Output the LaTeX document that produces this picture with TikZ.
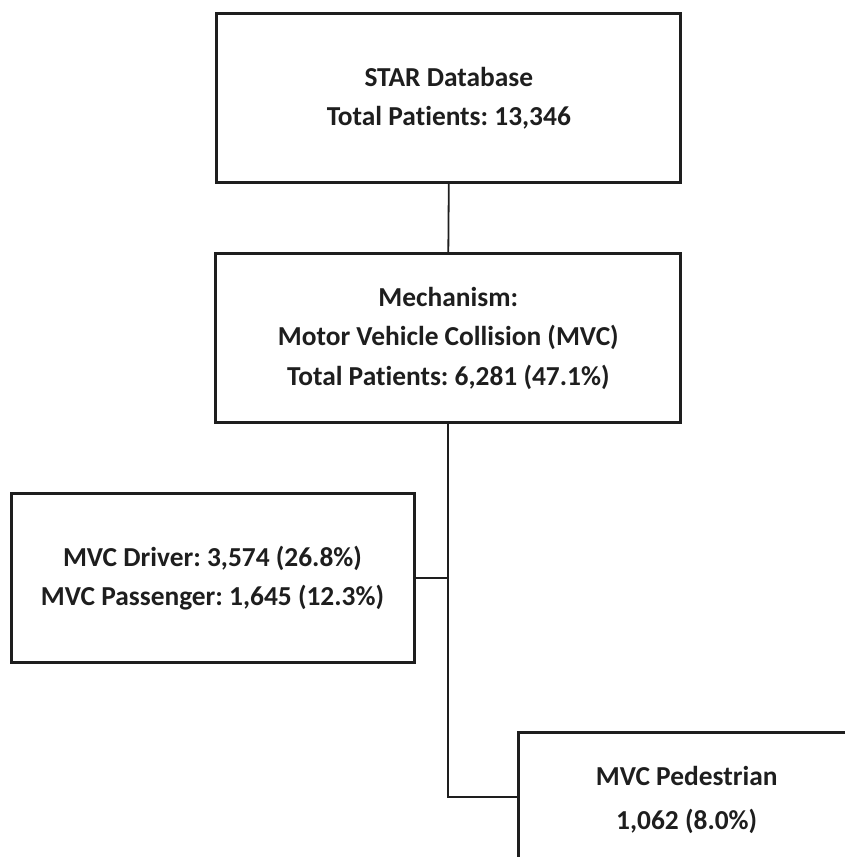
\documentclass[tikz,border=0pt]{standalone}
\usepackage{fontspec}
\setmainfont{Carlito}[Ligatures={NoCommon}]
\frenchspacing
\definecolor{ink}{HTML}{1E1E1E}
\tikzset{
  box/.style={draw=ink, line width=3pt, text=ink, align=center, inner sep=0pt,
    font=\fontsize{27.4}{39.5}\selectfont\bfseries},
  conn/.style={draw=ink, line width=1.8pt}
}
\begin{document}
\begin{tikzpicture}[x=1pt,y=-1pt]
\useasboundingbox (0,0) rectangle (845,857);
\node[box, minimum width=464pt, minimum height=168.7pt] (top) at (448.8,98.3)
  {STAR Database\\Total Patients: 13,346};
\node[box, minimum width=465pt, minimum height=168.7pt] (mid) at (448.3,338.3)
  {Mechanism:\\Motor Vehicle Collision (MVC)\\Total Patients: 6,281 (47.1\%)};
\node[box, minimum width=403pt, minimum height=168.7pt] (left) at (212.5,578.3)
  {MVC Driver: 3,574 (26.8\%)\\MVC Passenger: 1,645 (12.3\%)};
\node[box, minimum width=336.8pt, minimum height=134pt,
  font=\fontsize{27.4}{44.5}\selectfont\bfseries] (ped) at (686.7,799.7)
  {MVC Pedestrian\\1,062 (8.0\%)};
\coordinate (j1) at (448.3,578.3);
\coordinate (j2) at (448.3,797);
\draw[conn] (top.south) -- (mid.north);
\draw[conn] (mid.south) -- (j2) -- (j2 -| ped.west);
\draw[conn] (left.east) -- (j1);
\end{tikzpicture}
\end{document}
